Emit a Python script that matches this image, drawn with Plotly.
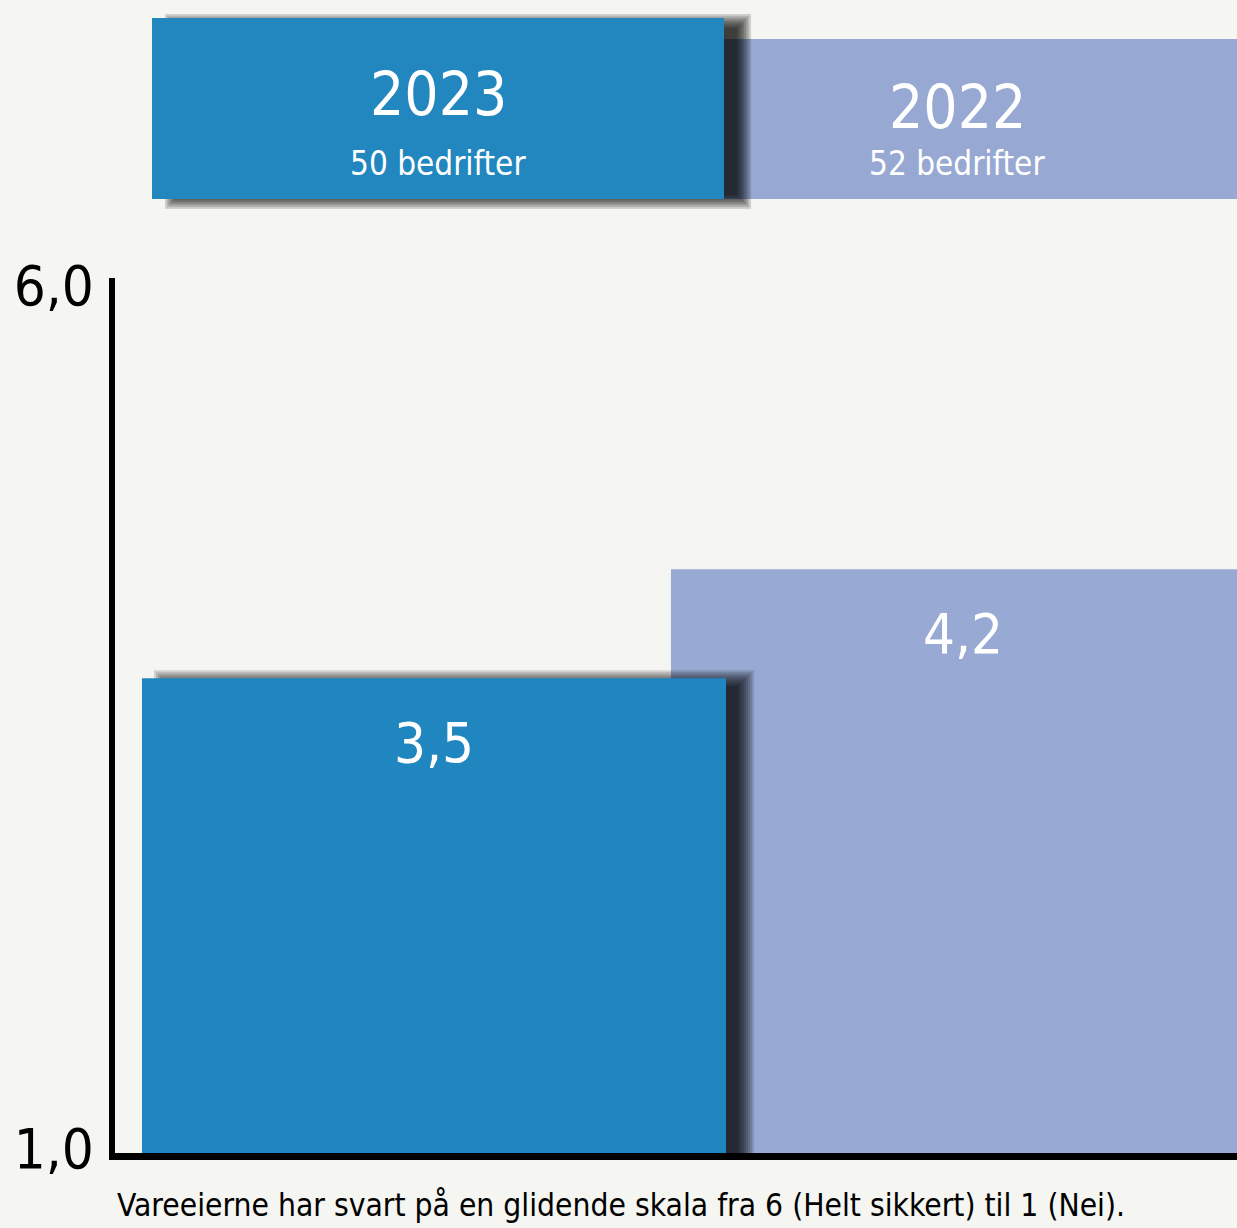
import plotly.graph_objects as go

# ---------------- data ----------------
years = ["2023", "2022"]
scores = [3.5, 4.2]
companies = [50, 52]
tick_text = ["1,0", "6,0"]
caption = "Vareeierne har svart på en glidende skala fra 6 (Helt sikkert) til 1 (Nei)."

# ---------------- styling / layout ----------------
W, H = 1237, 1228
ML, MR, MT, MB = 115, 0, 278, 75
PW, PH = W - ML - MR, H - MT - MB
XR = [-0.603, 1.518]
YR = [0.45, 6.07]
XS = PW / (XR[1] - XR[0])   # px per x unit
YS = PH / (YR[1] - YR[0])   # px per y unit
BW = 1.104
BG = "#F5F5F1"
BAR_COL = {"2023": "#1F86C0", "2022": "#98AAD3"}
HEAD_COL = {"2023": "#2286BF", "2022": "#97A9D2"}
FONT = "DejaVu Sans Condensed, Liberation Sans Narrow, sans-serif"

def fmt(v):
    return f"{v:.1f}".replace(".", ",")

def pxx(px):
    return (px - ML) / PW

def pxy(py):
    return (H - MB - py) / PH

fig = go.Figure()

i23 = years.index("2023")
i22 = years.index("2022")

# background bar (2022)
fig.add_trace(go.Bar(x=[years[i22]], y=[scores[i22]], width=BW,
                     marker=dict(color=BAR_COL["2022"], line=dict(width=0)),
                     hoverinfo="skip", showlegend=False))

# blurred drop shadow of the 2023 bar (stacked translucent layers)
N, BLUR, DX, DY = 9, 9.0, 20.0, 0.0
alpha = 1 - (1 - 0.75) ** (1 / N)
for k in range(N):
    e = BLUR * (1 - 2 * (k + 0.5) / N)
    top = scores[i23] + (e - DY) / YS
    base = YR[0] - 0.2
    wk = BW + 2 * e / XS
    fig.add_trace(go.Bar(x=[years[i23]], y=[top - base], base=base,
                         width=wk, offset=-wk / 2 + DX / XS,
                         marker=dict(color=f"rgba(0,0,0,{alpha:.3f})", line=dict(width=0)),
                         hoverinfo="skip", showlegend=False))

# foreground bar (2023)
fig.add_trace(go.Bar(x=[years[i23]], y=[scores[i23]], width=BW,
                     marker=dict(color=BAR_COL["2023"], line=dict(width=0)),
                     hoverinfo="skip", showlegend=False))

# value labels
for i, v in enumerate(scores):
    fig.add_annotation(x=i, y=v, xref="x", yref="y", text=fmt(v), showarrow=False,
                       yanchor="middle", yshift=-64,
                       font=dict(family=FONT, size=56, color="white"))

# header boxes
shapes = []
hb = {"2023": (152, 18, 724, 199), "2022": (724, 39, 1237, 199)}
x0, y0, x1, y1 = hb["2022"]
shapes.append(dict(type="rect", xref="paper", yref="paper", x0=pxx(x0), x1=pxx(x1 + 5),
                   y0=pxy(y1), y1=pxy(y0), fillcolor=HEAD_COL["2022"], line=dict(width=0)))
x0, y0, x1, y1 = hb["2023"]
HN, HBLUR, HDX, HDY = 9, 8.0, 20.0, 3.0
for k in range(HN):
    e = HBLUR * (1 - 2 * (k + 0.5) / HN)
    shapes.append(dict(type="rect", xref="paper", yref="paper",
                       x0=pxx(x0 + HDX - e), x1=pxx(x1 + HDX + e),
                       y0=pxy(y1 + HDY + e), y1=pxy(y0 + HDY - e),
                       fillcolor=f"rgba(0,0,0,{alpha:.3f})", line=dict(width=0)))
shapes.append(dict(type="rect", xref="paper", yref="paper", x0=pxx(x0), x1=pxx(x1),
                   y0=pxy(y1), y1=pxy(y0), fillcolor=HEAD_COL["2023"], line=dict(width=0)))

head_pos = {"2023": (438, 94, 163), "2022": (957, 107, 163)}
for yr, n in zip(years, companies):
    cx, ty, sy = head_pos[yr]
    fig.add_annotation(x=pxx(cx), y=pxy(ty), xref="paper", yref="paper", text=yr,
                       showarrow=False, xanchor="center", yanchor="middle",
                       font=dict(family=FONT, size=60, color="white"))
    fig.add_annotation(x=pxx(cx), y=pxy(sy), xref="paper", yref="paper",
                       text=f"{n} bedrifter", showarrow=False, xanchor="center", yanchor="middle",
                       font=dict(family=FONT, size=33, color="white"))

# caption
fig.add_annotation(x=pxx(115), y=pxy(1205), xref="paper", yref="paper", text=caption,
                   showarrow=False, xanchor="left", yanchor="middle",
                   font=dict(family=FONT, size=31.5, color="black"))

fig.update_layout(
    template="none",
    width=W, height=H, margin=dict(l=ML, r=MR, t=MT, b=MB, autoexpand=False),
    paper_bgcolor=BG, plot_bgcolor=BG, barmode="overlay", shapes=shapes,
    xaxis=dict(type="category", categoryorder="array", categoryarray=years,
               range=XR, showgrid=False, zeroline=False, showticklabels=False,
               showline=True, linewidth=7, linecolor="black", ticks="", automargin=False),
    yaxis=dict(range=YR, showgrid=False, zeroline=False, showline=True, linewidth=6,
               linecolor="black", ticks="", tickvals=[0.48, 6.02], ticktext=tick_text,
               tickfont=dict(family=FONT, size=56, color="black"), ticklabelstandoff=4,
               automargin=False),
)

fig.write_html("out.html")
